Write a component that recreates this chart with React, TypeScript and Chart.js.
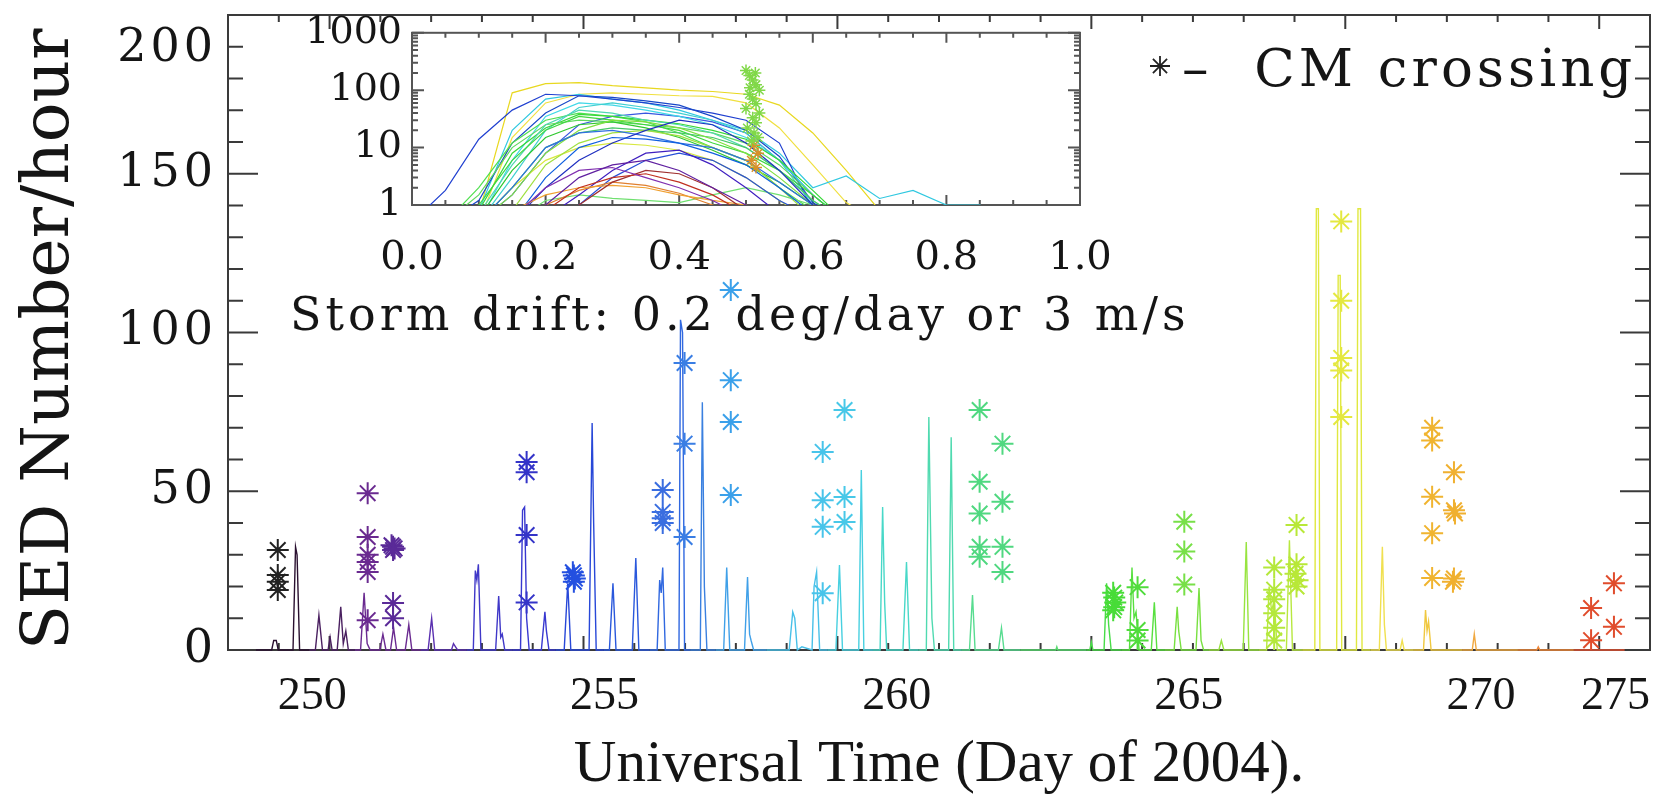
import React, { useEffect, useRef } from 'react';
import { Chart, registerables } from 'chart.js';

Chart.register(...registerables);

// ---------------- Main panel: SED rate vs day of 2004 ----------------
// each segment: [day, SED number/hour]
const seg01 = [[248.55,0],[248.86,0],[248.9,3],[248.95,3],[248.99,0],[249.28,0],[249.33,32.5],[249.36,30],[249.41,0],[249.6,0]];
const seg02 = [[249.6,0],[249.72,0],[249.79,11],[249.86,0],[249.97,0],[250.01,4],[250.05,0],[250.15,0],[250.22,13.6],[250.27,2],[250.32,6],[250.37,0],[250.5,0]];
const seg03 = [[250.5,0],[250.61,0],[250.68,18],[250.74,2],[250.8,0],[250.99,0],[251.05,5],[251.11,0],[251.2,0],[251.26,7],[251.32,0],[251.49,0],[251.56,8],[251.62,0],[251.8,0]];
const seg04 = [[251.8,0],[251.94,0],[252.01,10],[252.07,0],[252.4,0],[252.44,2],[252.48,1],[252.52,0],[252.7,0]];
const seg05 = [[252.7,0],[252.83,0],[252.87,25],[252.9,22],[252.93,27],[252.98,0],[253.27,0],[253.33,17],[253.37,4],[253.4,5],[253.45,0],[253.6,0]];
const seg06 = [[253.6,0],[253.76,0],[253.8,44],[253.84,45],[253.88,10],[253.93,0],[254.17,0],[254.24,12],[254.27,6],[254.32,0],[254.45,0]];
const seg07 = [[254.45,0],[254.62,0],[254.69,21],[254.75,0],[255.11,0],[255.17,71.5],[255.2,40],[255.25,0],[255.4,0]];
const seg08 = [[255.4,0],[255.51,0],[255.58,21],[255.64,0],[255.96,0],[256.03,29],[256.09,0],[256.3,0]];
const seg09 = [[256.3,0],[256.45,0],[256.5,22],[256.53,18],[256.56,26],[256.61,0],[256.88,0],[256.91,104],[256.95,100],[256.99,0],[257.1,0]];
const seg10 = [[257.1,0],[257.3,0],[257.34,78],[257.38,20],[257.43,0],[257.6,0]];
const seg11 = [[257.6,0],[257.76,0],[257.82,26],[257.88,0],[258.17,0],[258.23,23],[258.27,5],[258.3,3],[258.35,0],[258.6,0]];
const seg12 = [[258.6,0],[259.05,0],[259.12,12],[259.16,10],[259.21,0],[259.3,1],[259.5,0],[259.54,20],[259.59,24.6],[259.65,0],[259.8,0]];
const seg13 = [[259.8,0],[259.97,0],[260.04,26.8],[260.1,0],[260.42,0],[260.47,56.7],[260.52,0],[260.7,0]];
const seg14 = [[260.7,0],[260.84,0],[260.89,45],[260.93,15],[260.97,0],[261.29,0],[261.36,27.7],[261.42,0],[261.6,0]];
const seg15 = [[261.6,0],[261.75,0],[261.8,73.4],[261.86,10],[261.91,0],[262.19,0],[262.24,67],[262.29,0],[262.45,0]];
const seg16 = [[262.45,0],[262.6,0],[262.66,17.3],[262.71,0],[263.17,0],[263.23,7],[263.28,0],[263.6,0]];
const seg17 = [[263.6,0],[264.3,0],[264.32,1],[264.34,0],[264.9,0]];
const seg18 = [[264.9,0],[264.97,0],[265.0,2.5],[265.03,0],[265.25,0],[265.3,21],[265.34,8],[265.39,0],[265.6,0]];
const seg19 = [[265.6,0],[265.75,0],[265.8,26],[265.84,10],[265.88,12],[265.94,0],[266.18,0],[266.24,15],[266.29,0],[266.45,0]];
const seg20 = [[266.45,0],[266.63,0],[266.69,13.6],[266.72,6],[266.77,0],[267.06,0],[267.12,19.5],[267.16,3],[267.21,0],[267.3,0]];
const seg21 = [[267.3,0],[267.51,0],[267.56,3],[267.61,0],[267.99,0],[268.05,34],[268.1,0],[268.3,0]];
const seg22 = [[268.3,0],[268.45,0],[268.5,20],[268.55,12],[268.6,16],[268.66,0],[268.84,0],[268.9,34.6],[268.96,0],[269.15,0]];
const seg23 = [[269.15,0],[269.4,0],[269.43,139],[269.47,139],[269.5,0],[269.83,0],[269.86,118],[269.9,118],[269.93,0],[270.22,0],[270.25,139],[270.3,139],[270.33,0],[270.5,0]];
const seg24 = [[270.5,0],[270.67,0],[270.73,32.5],[270.77,8],[270.81,0],[271.08,0],[271.12,3],[271.16,0],[271.35,0]];
const seg25 = [[271.35,0],[271.54,0],[271.58,12.6],[271.61,6],[271.64,9],[271.69,0],[272.3,0]];
const seg26 = [[272.3,0],[272.5,0],[272.54,5],[272.58,0],[273.4,0]];
const seg27 = [[273.4,0],[273.77,0],[273.8,1],[273.83,0],[274.5,0]];
const seg28 = [[274.5,0],[275.5,0]];

const segmentColors = ['#2a1030','#4a2060','#6a2a90','#5a30b0','#4038c8','#3838d0','#2848d8','#2a58dc','#3068e0','#3a80e0','#40a0e8','#48c0e8','#48d0e0','#48d8c8','#50dab0','#58dc90','#58dc70','#48dc48','#58e040','#78e040','#98e440','#b8e840','#e0e840','#f0e050','#f0c840','#f0a840','#f08838','#e05030'];
const segments = [seg01,seg02,seg03,seg04,seg05,seg06,seg07,seg08,seg09,seg10,seg11,seg12,seg13,seg14,seg15,seg16,seg17,seg18,seg19,seg20,seg21,seg22,seg23,seg24,seg25,seg26,seg27,seg28];

// CM crossing markers: [day, SED number/hour]
const cmBlack = [[248.98,31.5],[248.98,23.6],[248.98,21.5],[248.98,18.9]];
const cmPurpleA = [[250.75,49.4],[250.75,35.6],[250.75,30],[250.75,27.7],[250.75,24.6],[250.75,9.4]];
const cmPurpleB = [[251.22,33],[251.25,32.5],[251.28,32],[251.25,31.5],[251.25,14.8],[251.25,10]];
const cmViolet = [[253.88,59.2],[253.88,56],[253.88,36.2],[253.88,15]];
const cmBlueA = [[254.79,24.5],[254.81,23.5],[254.83,22.5],[254.81,21.5]];
const cmBlueB = [[256.56,50.4],[256.56,43.5],[256.56,41.5],[256.56,40]];
const cmBlueC = [[256.99,90.4],[256.99,65],[256.99,35.6]];
const cmSky = [[257.9,113.4],[257.9,85],[257.9,71.8],[257.9,48.8]];
const cmCyanA = [[259.71,62.4],[259.71,47.2],[259.71,38.8],[259.71,17.9]];
const cmCyanB = [[260.14,75.6],[260.14,48.2],[260.14,40.3]];
const cmSeaA = [[262.8,75.6],[262.8,53],[262.8,43],[262.8,32.5],[262.8,29.4]];
const cmSeaB = [[263.25,65],[263.25,46.7],[263.25,32.5],[263.25,24.6]];
const cmGreenA = [[265.43,18],[265.45,16.5],[265.47,15],[265.45,13.5],[265.43,12.5]];
const cmGreenB = [[265.91,19.8],[265.91,6.3],[265.91,3]];
const cmLime = [[266.83,40.4],[266.83,31],[266.83,20.6]];
const cmYGreenA = [[268.6,26],[268.6,19],[268.6,16],[268.6,11.6],[268.6,7],[268.6,3]];
const cmYGreenB = [[269.04,39.4],[269.04,27],[269.02,24],[269.06,22],[269.04,20]];
const cmYellow = [[269.92,135],[269.92,110],[269.92,92],[269.92,88],[269.92,73.4]];
const cmOrangeA = [[271.71,70],[271.71,66],[271.71,48.3],[271.71,36.8],[271.71,22.7]];
const cmOrangeB = [[272.14,56],[272.14,44],[272.16,43],[272.14,22.5],[272.12,21.5]];
const cmRed = [[274.84,13.2],[274.84,3.1],[275.29,21],[275.29,7.3]];

const cmGroups = [cmBlack,cmPurpleA,cmPurpleB,cmViolet,cmBlueA,cmBlueB,cmBlueC,cmSky,cmCyanA,cmCyanB,cmSeaA,cmSeaB,cmGreenA,cmGreenB,cmLime,cmYGreenA,cmYGreenB,cmYellow,cmOrangeA,cmOrangeB,cmRed];
const cmColors = ['#222222','#6a2a90','#5a2a98','#3434c8','#2450e0','#3a6ee0','#3a7ee4','#3aa0ea','#48c4ea','#48c8e8','#50d880','#50d880','#48dc38','#50dc3c','#78e048','#b4e83c','#b8e838','#e4e840','#f0b430','#f0b030','#e04c2c'];

// tick labels
const yTickLabels = [0, 50, 100, 150, 200];
const xTickLabels = [250, 255, 260, 265, 270, 275];

// ---------------- Inset: SED rate vs storm phase (log) ----------------
const insetX = [0,0.05,0.1,0.15,0.2,0.25,0.3,0.35,0.4,0.45,0.5,0.55,0.6,0.65,0.7,0.75,0.8,0.85,0.9,0.95,1.0];
const inYellowA = [0.5,0.5,0.7,90,130,135,120,110,100,95,85,55,18,4,0.8,0.5,0.5,0.5,0.5,0.5,0.5];
const inYellowB = [0.5,0.5,0.5,15,60,85,90,85,80,78,60,22,5,1.1,0.5,0.5,0.5,0.5,0.5,0.5,0.5];
const inYellowC = [0.5,0.5,0.5,2,6,10,12,11,9,6,3,1.2,0.5,0.5,0.5,0.5,0.5,0.5,0.5,0.5,0.5];
const inBlueA = [0.5,1.8,14,45,85,80,70,60,50,40,30,12,0.8,0.5,0.5,0.5,0.5,0.5,0.5,0.5,0.5];
const inBlueB = [0.5,0.5,1.2,12,40,80,75,65,55,35,20,7,1.1,0.5,0.5,0.5,0.5,0.5,0.5,0.5,0.5];
const inBlueC = [0.5,0.5,0.5,2,10,18,20,16,12,10,6,2.5,1,0.5,0.5,0.5,0.5,0.5,0.5,0.5,0.5];
const inBlueD = [0.5,0.5,0.5,0.5,2,6,12,20,30,25,12,4,1,0.5,0.5,0.5,0.5,0.5,0.5,0.5,0.5];
const inBlueE = [0.5,0.5,0.5,0.5,3,10,15,14,12,8,5,2,0.7,0.5,0.5,0.5,0.5,0.5,0.5,0.5,0.5];
const inBlueF = [0.5,0.5,0.5,0.5,0.5,1,3,6,8,6,3,1.2,0.6,0.5,0.5,0.5,0.5,0.5,0.5,0.5,0.5];
const inBlueG = [0.5,0.5,0.5,1.5,8,25,35,40,35,28,18,6,1.5,0.5,0.5,0.5,0.5,0.5,0.5,0.5,0.5];
const inCyanA = [0.5,0.5,0.8,20,70,85,70,60,45,30,20,8,2,3.2,1.3,1.8,1,1,0.5,0.5,0.5];
const inCyanB = [0.5,0.5,0.5,6,35,60,55,45,35,25,15,6,1.5,0.5,0.5,0.5,0.5,0.5,0.5,0.5,0.5];
const inCyanC = [0.5,0.5,0.5,3,20,50,60,50,40,30,18,6,1,0.5,0.5,0.5,0.5,0.5,0.5,0.5,0.5];
const inTeal = [0.5,0.5,0.7,5,25,45,40,30,25,18,10,4,1.2,0.5,0.5,0.5,0.5,0.5,0.5,0.5,0.5];
const inGreenA = [0.5,0.5,1,6,20,35,30,25,20,12,8,4,1.5,0.5,0.5,0.5,0.5,0.5,0.5,0.5,0.5];
const inGreenB = [0.5,0.5,2,12,30,40,35,28,18,10,6,2,0.8,0.5,0.5,0.5,0.5,0.5,0.5,0.5,0.5];
const inGreenC = [0.5,0.5,0.6,4,15,25,28,22,15,9,5,2.5,1,0.5,0.5,0.5,0.5,0.5,0.5,0.5,0.5];
const inGreenD = [0.5,0.5,0.5,1.5,8,20,30,28,22,14,8,3,1,0.5,0.5,0.5,0.5,0.5,0.5,0.5,0.5];
const inGreenE = [0.5,0.5,0.5,0.8,5,12,18,20,16,10,6,2,0.6,0.5,0.5,0.5,0.5,0.5,0.5,0.5,0.5];
const inGreenF = [0.5,0.5,1.5,10,25,30,28,25,22,18,12,5,1.5,0.5,0.5,0.5,0.5,0.5,0.5,0.5,0.5];
const inGreenG = [0.5,0.5,0.5,2,10,18,22,20,18,15,10,4,1.2,0.5,0.5,0.5,0.5,0.5,0.5,0.5,0.5];
const inGreenH = [0.5,0.5,0.8,8,22,38,35,30,26,20,14,6,1.8,0.5,0.5,0.5,0.5,0.5,0.5,0.5,0.5];
const inLime = [0.5,0.5,0.5,0.5,1.2,1.5,1.3,1.2,1.1,1.5,2,1.5,1,0.5,0.5,0.5,0.5,0.5,0.5,0.5,0.5];
const inViolet = [0.5,0.5,0.5,0.5,0.6,1.5,4,8,9,5,2,0.7,0.5,0.5,0.5,0.5,0.5,0.5,0.5,0.5,0.5];
const inPurpleA = [0.5,0.5,0.5,0.5,1,3,5,6,4,2,1,0.5,0.5,0.5,0.5,0.5,0.5,0.5,0.5,0.5,0.5];
const inPurpleB = [0.5,0.5,0.5,0.6,2,4,4.5,3,2,1.2,0.6,0.5,0.5,0.5,0.5,0.5,0.5,0.5,0.5,0.5,0.5];
const inRedA = [0.5,0.5,0.5,0.5,0.8,2,3,3.5,2.5,1.5,0.7,0.5,0.5,0.5,0.5,0.5,0.5,0.5,0.5,0.5,0.5];
const inRedB = [0.5,0.5,0.5,0.5,0.5,1,2.5,4,3.5,2,0.8,0.5,0.5,0.5,0.5,0.5,0.5,0.5,0.5,0.5,0.5];
const inOrangeA = [0.5,0.5,0.5,0.8,1.5,2,2.2,2,1.5,1.2,1,0.6,0.5,0.5,0.5,0.5,0.5,0.5,0.5,0.5,0.5];
const inOrangeB = [0.5,0.5,0.5,0.5,1,1.8,2.5,2.2,1.6,1,0.6,0.5,0.5,0.5,0.5,0.5,0.5,0.5,0.5,0.5,0.5];

const insetCurves = [inPurpleA,inPurpleB,inRedA,inRedB,inOrangeA,inOrangeB,inViolet,inBlueF,inBlueE,inBlueD,inBlueC,inLime,inGreenE,inGreenD,inGreenG,inGreenC,inGreenA,inYellowC,inTeal,inGreenF,inGreenH,inGreenB,inCyanC,inCyanB,inBlueG,inBlueB,inBlueA,inCyanA,inYellowB,inYellowA];
const insetColors = ['#6020a0','#8030b0','#c03020','#a03030','#f0a030','#e08030','#4020c0','#2850d8','#1060e0','#2030c0','#3070e0','#70e070','#a0e040','#80e040','#48c868','#30c830','#40d840','#d8e840','#50d8b0','#60d860','#38d838','#50e050','#40d0d0','#40d8e8','#3858e0','#1848c8','#2040d0','#30c8e0','#f0e040','#e8d820'];

// CM crossing marks in the inset
const insetCmX = [0.5,0.505,0.51,0.515,0.52,0.505,0.51,0.515,0.5,0.52,0.51,0.515,0.502,0.512,0.518,0.508,0.514,0.506];
const insetCmY = [220,180,150,125,100,85,70,58,48,40,33,27,22,18,15,13,200,110];
const insetCmLowX = [0.512,0.518,0.508,0.515];
const insetCmLowY = [11,8,6,4.5];

const insetXTickLabels = [0, 0.2, 0.4, 0.6, 0.8, 1.0];
const insetYTickLabels = [1, 10, 100, 1000];

const driftText = 'Storm drift: 0.2 deg/day or 3 m/s';
const legendText = '\u2013  CM crossing';

// range of the typeset day labels below the main axis
const LABEL_AXIS_MIN = 248.56;
const LABEL_AXIS_MAX = 272.89;

const W = 1669;
const H = 808;
const SERIF = '"DejaVu Serif", "Liberation Serif", serif';
const SERIF2 = '"Liberation Serif", "DejaVu Serif", serif';

// ---------------- plugins ----------------
const frameTicks = {
  id: 'frameTicks',
  beforeDatasetsDraw(chart: any, _args: any, o: any) {
    const { ctx, chartArea: a } = chart;
    const xs = chart.scales[o.xId];
    const ys = chart.scales[o.yId];
    ctx.save();
    ctx.strokeStyle = o.color;
    ctx.lineWidth = o.width;
    ctx.strokeRect(a.left, a.top, a.right - a.left, a.bottom - a.top);
    ctx.beginPath();
    const nx = Math.round((xs.max - xs.min) / o.xStep);
    for (let i = 0; i <= nx; i++) {
      const v = xs.min + i * o.xStep;
      const r = v / o.xMajor;
      const major = Math.abs(r - Math.round(r)) < 1e-6;
      const len = major ? o.xMajorLen : o.xMinorLen;
      const px = xs.getPixelForValue(v);
      ctx.moveTo(px, a.bottom); ctx.lineTo(px, a.bottom - len);
      ctx.moveTo(px, a.top); ctx.lineTo(px, a.top + len);
    }
    const yv: Array<[number, boolean]> = [];
    if (o.yLog) {
      for (let d = ys.min; d < ys.max * 1.0001; d *= 10) {
        for (let k = 1; k <= 9; k++) {
          const v = d * k;
          if (v <= ys.max * 1.0001) yv.push([v, k === 1]);
        }
      }
    } else {
      const ny = Math.round((ys.max - ys.min) / o.yStep);
      for (let i = 0; i <= ny; i++) {
        const v = ys.min + i * o.yStep;
        const r = v / o.yMajor;
        yv.push([v, Math.abs(r - Math.round(r)) < 1e-6]);
      }
    }
    yv.forEach(([v, major]) => {
      const py = ys.getPixelForValue(v);
      const len = major ? o.yMajorLen : o.yMinorLen;
      ctx.moveTo(a.left, py); ctx.lineTo(a.left + len, py);
      ctx.moveTo(a.right, py); ctx.lineTo(a.right - len, py);
    });
    ctx.stroke();
    ctx.restore();
  },
};

const mainText = {
  id: 'mainText',
  afterDraw(chart: any) {
    const { ctx, chartArea: a } = chart;
    const ys = chart.scales.y;
    ctx.save();
    ctx.fillStyle = '#151515';
    ctx.font = '46px ' + SERIF;
    (ctx as any).letterSpacing = '4px';
    ctx.textAlign = 'right';
    ctx.textBaseline = 'middle';
    yTickLabels.forEach((v) => {
      const py = Math.max(ys.getPixelForValue(v), a.top + 34);
      ctx.fillText(String(v), a.left - 11, py);
    });
    ctx.textAlign = 'left';
    ctx.textBaseline = 'alphabetic';
    ctx.font = '46px ' + SERIF;
    (ctx as any).letterSpacing = '4px';
    ctx.fillText(driftText, 290, 330);
    // legend
    const cx = 1160, cy = 66, r = 10;
    ctx.strokeStyle = '#222';
    ctx.lineWidth = 1.8;
    ctx.beginPath();
    ctx.moveTo(cx - r, cy); ctx.lineTo(cx + r, cy);
    ctx.moveTo(cx, cy - r); ctx.lineTo(cx, cy + r);
    const d = r * Math.SQRT1_2;
    ctx.moveTo(cx - d, cy - d); ctx.lineTo(cx + d, cy + d);
    ctx.moveTo(cx - d, cy + d); ctx.lineTo(cx + d, cy - d);
    ctx.stroke();
    ctx.font = '53px ' + SERIF;
    (ctx as any).letterSpacing = '4px';
    ctx.fillText(legendText, 1182, 86);
    ctx.restore();
  },
};

function toXY(pts: number[][]) {
  return pts.map(([x, y]) => ({ x, y }));
}

function mainConfig(): any {
  const datasets: any[] = [];
  cmGroups.forEach((g, i) => {
    datasets.push({
      data: toXY(g),
      showLine: false,
      pointStyle: 'star',
      pointRadius: 11,
      pointBorderWidth: 2,
      pointBorderColor: cmColors[i],
      pointBackgroundColor: cmColors[i],
      borderColor: cmColors[i],
      order: 0,
    });
  });
  segments.forEach((s, i) => {
    datasets.push({
      data: toXY(s),
      borderColor: segmentColors[i],
      borderWidth: 1.4,
      pointRadius: 0,
      tension: 0,
      fill: false,
      clip: 4,
      order: 1,
    });
  });
  return {
    type: 'line',
    data: { datasets },
    plugins: [frameTicks, mainText],
    options: {
      responsive: false,
      animation: false,
      events: [],
      layout: { padding: { left: 0, right: 18, top: 15, bottom: 0 }, autoPadding: false },
      plugins: {
        legend: { display: false },
        tooltip: { enabled: false },
        frameTicks: {
          xId: 'x', yId: 'y', color: '#3a3a3a', width: 2,
          xStep: 1, xMajor: 5, xMinorLen: 7, xMajorLen: 14,
          yStep: 10, yMajor: 50, yMinorLen: 15, yMajorLen: 30,
        },
      },
      scales: {
        x: {
          type: 'linear', position: 'bottom', min: 248, max: 276,
          ticks: { display: false },
          grid: { display: false, drawTicks: false },
          border: { display: false },
          afterFit: (s: any) => { s.height = 0; },
        },
        xl: {
          type: 'linear', position: 'bottom', min: LABEL_AXIS_MIN, max: LABEL_AXIS_MAX,
          afterBuildTicks: (s: any) => {
            s.ticks = [{ value: s.min }, ...xTickLabels.slice(0, -1).map((v) => ({ value: v })), { value: s.max }];
          },
          ticks: {
            align: 'inner', autoSkip: false, maxRotation: 0, minRotation: 0,
            padding: 19, color: '#151515',
            font: { family: SERIF2, size: 46 },
            callback: (v: number, i: number, t: any[]) =>
              i === 0 ? '' : i === t.length - 1 ? String(xTickLabels[xTickLabels.length - 1]) : String(v),
          },
          grid: { display: false, drawTicks: false },
          border: { display: false },
          title: {
            display: true, text: 'Universal Time (Day of 2004).', color: '#151515',
            font: { family: SERIF2, size: 59 }, padding: { top: 0, bottom: 7 },
          },
          afterFit: (s: any) => { s.height = 158; },
        },
        y: {
          type: 'linear', min: 0, max: 200,
          ticks: { display: false },
          grid: { display: false, drawTicks: false },
          border: { display: false },
          title: {
            display: true, text: 'SED Number/hour', color: '#151515', align: 'start',
            font: { family: SERIF, size: 66 }, padding: { top: 11, bottom: 0 },
          },
          afterFit: (s: any) => { s.width = 228; },
        },
      },
    },
  };
}

function insetConfig(): any {
  const datasets: any[] = [];
  datasets.push({
    data: insetCmX.map((x, i) => ({ x, y: insetCmY[i] })),
    showLine: false, pointStyle: 'star', pointRadius: 6, pointBorderWidth: 1.5,
    pointBorderColor: '#80d848', borderColor: '#80d848', order: 0,
  });
  datasets.push({
    data: insetCmLowX.map((x, i) => ({ x, y: insetCmLowY[i] })),
    showLine: false, pointStyle: 'star', pointRadius: 6, pointBorderWidth: 1.5,
    pointBorderColor: '#d8902a', borderColor: '#d8902a', order: 0,
  });
  insetCurves.forEach((c, i) => {
    datasets.push({
      data: c.map((y, j) => ({ x: insetX[j], y })),
      borderColor: insetColors[i], borderWidth: 1.2, pointRadius: 0, tension: 0, fill: false, order: 1,
    });
  });
  const yAxisW = 110;
  const xAxisH = 100;
  return {
    type: 'line',
    data: { datasets },
    plugins: [frameTicks],
    options: {
      responsive: false,
      animation: false,
      events: [],
      layout: { padding: { left: 412 - yAxisW, right: W - 1080, top: 31, bottom: H - 205 - xAxisH }, autoPadding: false },
      plugins: {
        legend: { display: false },
        tooltip: { enabled: false },
        frameTicks: {
          xId: 'x', yId: 'y', color: '#555555', width: 2,
          xStep: 0.05, xMajor: 0.2, xMinorLen: 5, xMajorLen: 10,
          yLog: true, yMinorLen: 6, yMajorLen: 12,
        },
      },
      scales: {
        x: {
          type: 'linear', min: 0, max: 1,
          afterBuildTicks: (s: any) => { s.ticks = insetXTickLabels.map((v) => ({ value: v })); },
          ticks: {
            autoSkip: false, maxRotation: 0, minRotation: 0, padding: 30, color: '#151515',
            font: { family: SERIF, size: 40 },
            callback: (v: number) => Number(v).toFixed(1),
          },
          grid: { display: false, drawTicks: false },
          border: { display: false },
          afterFit: (s: any) => { s.height = xAxisH; },
        },
        y: {
          type: 'logarithmic', min: 1, max: 1000,
          afterBuildTicks: (s: any) => { s.ticks = insetYTickLabels.map((v) => ({ value: v })); },
          ticks: {
            autoSkip: false, padding: 10, color: '#151515',
            font: { family: SERIF, size: 38 },
            callback: (v: number) => String(v),
          },
          grid: { display: false, drawTicks: false },
          border: { display: false },
          afterFit: (s: any) => { s.width = yAxisW; },
        },
      },
    },
  };
}

export default function App() {
  const mainRef = useRef<HTMLCanvasElement>(null);
  const insetRef = useRef<HTMLCanvasElement>(null);
  useEffect(() => {
    const main = new Chart(mainRef.current as HTMLCanvasElement, mainConfig());
    const inset = new Chart(insetRef.current as HTMLCanvasElement, insetConfig());
    return () => {
      main.destroy();
      inset.destroy();
    };
  }, []);
  const cs: React.CSSProperties = { position: 'absolute', left: 0, top: 0, width: W, height: H };
  return (
    <div style={{ position: 'fixed', left: 0, top: 0, width: W, height: H, background: '#ffffff' }}>
      <canvas ref={mainRef} width={W} height={H} style={cs} />
      <canvas ref={insetRef} width={W} height={H} style={cs} />
    </div>
  );
}
